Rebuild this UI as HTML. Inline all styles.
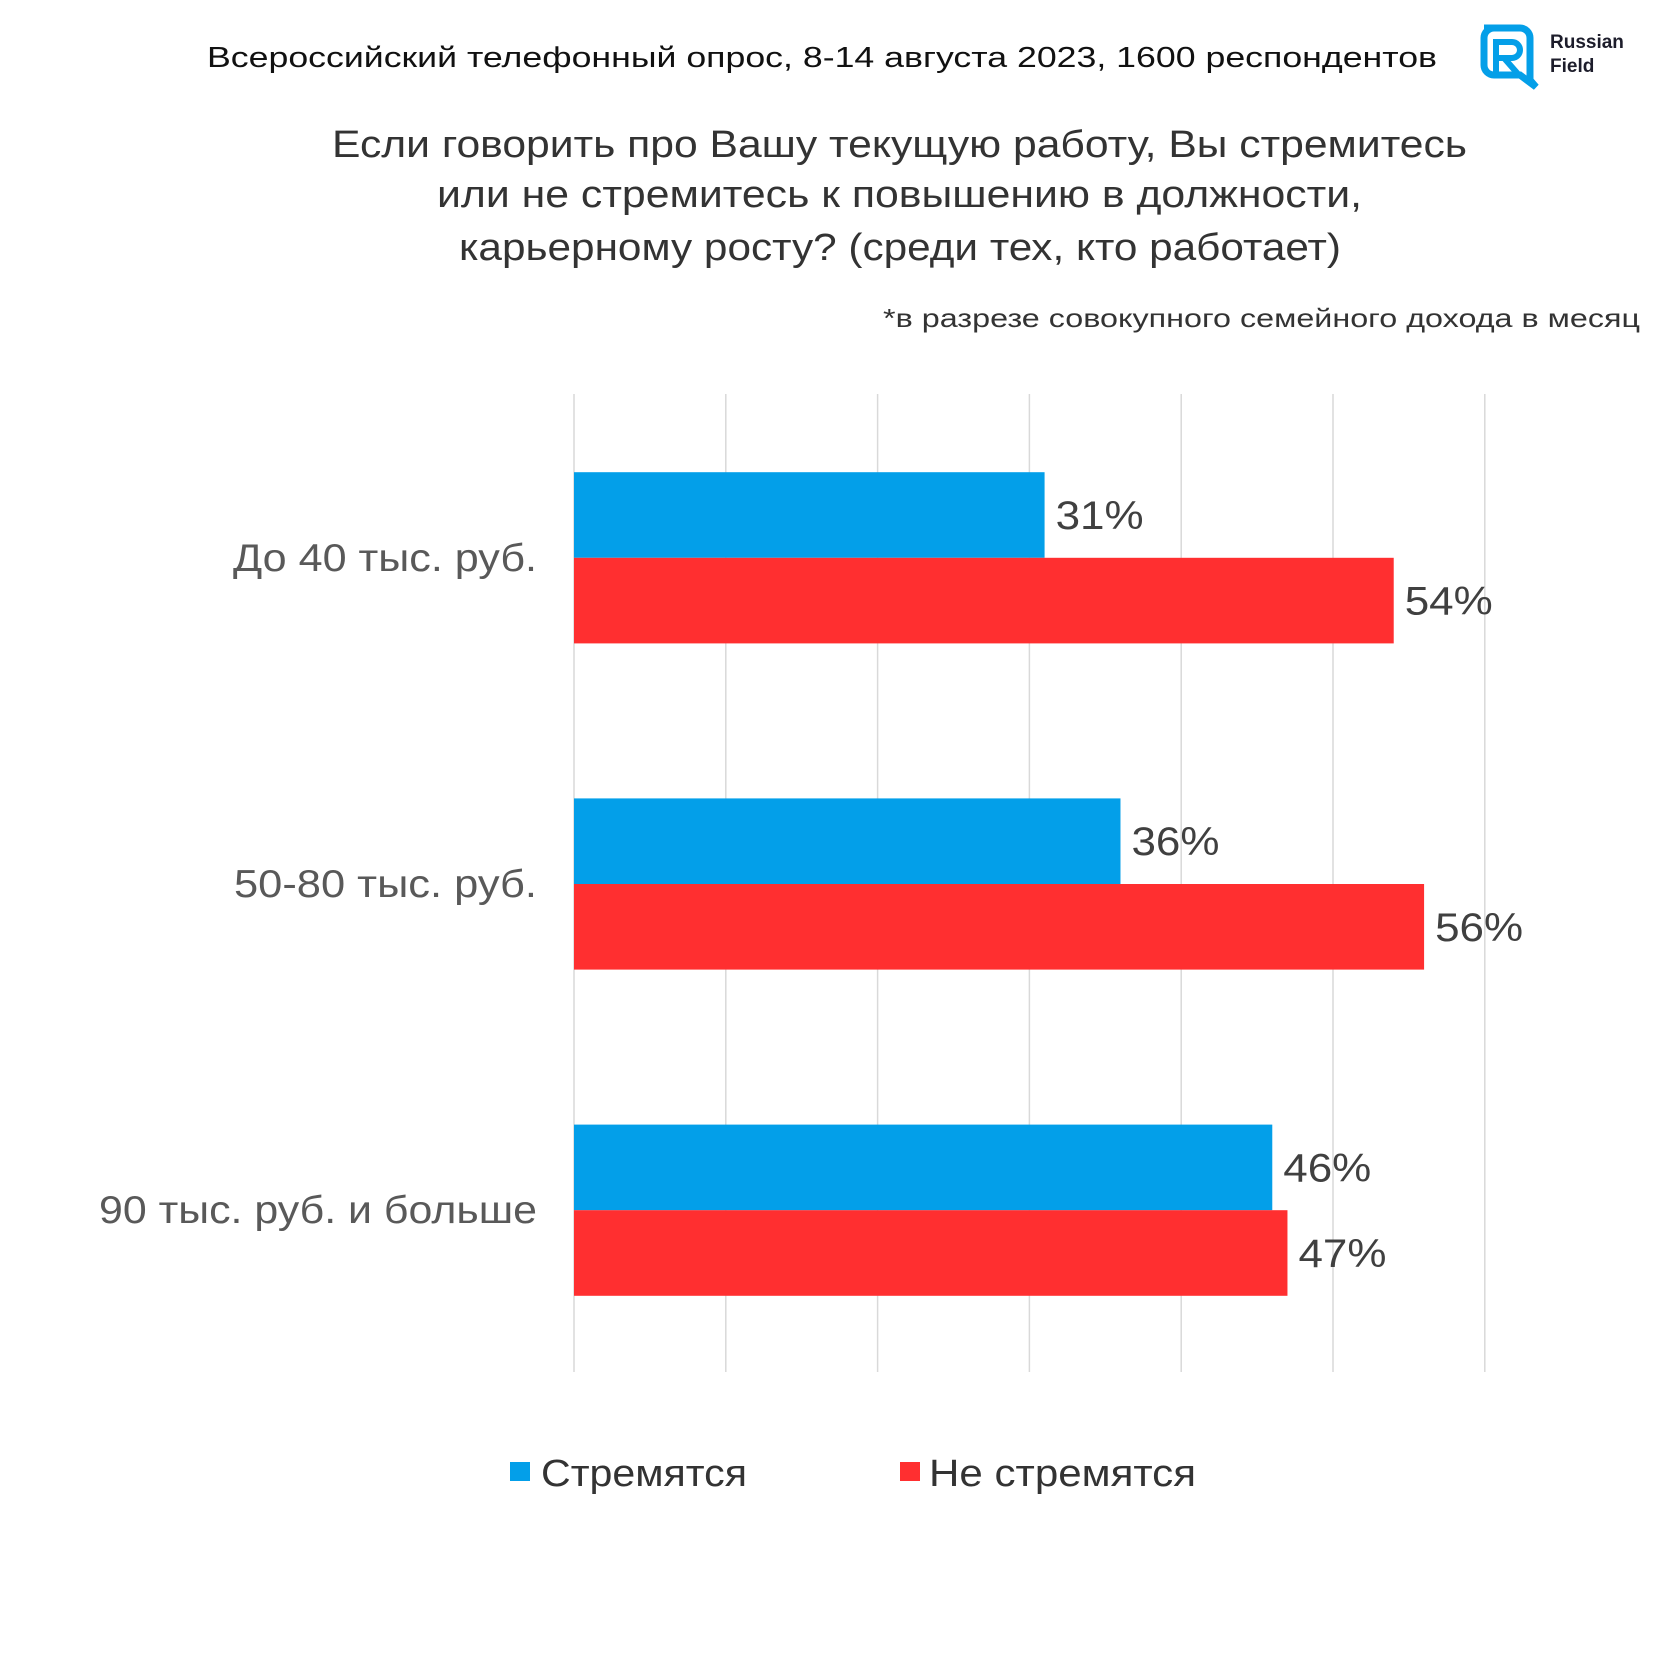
<!DOCTYPE html>
<html><head><meta charset="utf-8"><style>
html,body{margin:0;padding:0;background:#fff;}
svg{display:block;font-family:"Liberation Sans","DejaVu Sans",sans-serif;}
</style></head><body>
<svg id="chart" width="1680" height="1680" viewBox="0 0 1680 1680" xmlns="http://www.w3.org/2000/svg">
<text x="207" y="67" font-size="29" fill="#111" textLength="1230" lengthAdjust="spacingAndGlyphs">Всероссийский телефонный опрос, 8-14 августа 2023, 1600 респондентов</text>
<g>
<path d="M1484 28 h36 a10 10 0 0 1 10 10 v42 l6 7 l-16 -12 h-26 a10 10 0 0 1 -10 -10 v-27 a10 10 0 0 1 10 -10 z" fill="none" stroke="#049fe8" stroke-width="7"/>
<path d="M1496 74 v-32 h16 a8 8 0 0 1 0 16 h-16 m8 0 l14 16" fill="none" stroke="#049fe8" stroke-width="6"/>
<text x="1550" y="48" font-size="19" font-weight="bold" fill="#1d1d2b">Russian</text>
<text x="1550" y="72" font-size="19" font-weight="bold" fill="#1d1d2b">Field</text>
</g>
<g fill="#333" font-size="38">
<text x="332" y="157" textLength="1135" lengthAdjust="spacingAndGlyphs">Если говорить про Вашу текущую работу, Вы стремитесь</text>
<text x="437" y="207" textLength="925" lengthAdjust="spacingAndGlyphs">или не стремитесь к повышению в должности,</text>
<text x="459" y="260" textLength="882" lengthAdjust="spacingAndGlyphs">карьерному росту? (среди тех, кто работает)</text>
</g>
<text x="883" y="327" font-size="26" fill="#333" textLength="757" lengthAdjust="spacingAndGlyphs">*в разрезе совокупного семейного дохода в месяц</text>
<g id="grid"></g>
<g id="bars"></g>
<g id="labels"></g>
<g>
<rect x="510" y="1462" width="20" height="19" fill="#039fe9"/>
<text x="541" y="1486" font-size="38" fill="#333" textLength="206" lengthAdjust="spacingAndGlyphs">Стремятся</text>
<rect x="900" y="1462" width="20" height="19" fill="#ff2f30"/>
<text x="929" y="1486" font-size="38" fill="#333" textLength="267" lengthAdjust="spacingAndGlyphs">Не стремятся</text>
</g>
</svg>
<script>
const categories = ["До 40 тыс. руб.", "50-80 тыс. руб.", "90 тыс. руб. и больше"];
const striveValues = [31, 36, 46];
const notStriveValues = [54, 56, 47];
const gridTicks = [0, 10, 20, 30, 40, 50, 60];
const catLabelWidths = [304, 303, 438];

const NS = "http://www.w3.org/2000/svg";
const x0 = 574, pxPer = 15.18;
const xScale = v => x0 + v * pxPer;
const groupTop = 394, groupH = 326.2, barH = 85.6, barOffset = 78.2;
const yGroup = i => groupTop + i * groupH;

const grid = document.getElementById('grid');
gridTicks.forEach(t => {
  const l = document.createElementNS(NS, 'line');
  l.setAttribute('x1', xScale(t)); l.setAttribute('x2', xScale(t));
  l.setAttribute('y1', 394); l.setAttribute('y2', 1372);
  l.setAttribute('stroke', '#d9d9d9'); l.setAttribute('stroke-width', '1.5');
  
  
  grid.appendChild(l);
});

const bars = document.getElementById('bars');
const labels = document.getElementById('labels');
function addBar(v, y, color, name) {
  const r = document.createElementNS(NS, 'rect');
  r.setAttribute('x', x0); r.setAttribute('y', y);
  r.setAttribute('width', xScale(v) - x0); r.setAttribute('height', barH);
  r.setAttribute('fill', color);
  
  
  bars.appendChild(r);
  const t = document.createElementNS(NS, 'text');
  t.setAttribute('x', xScale(v) + 11); t.setAttribute('y', y + barH / 2 + 14);
  t.setAttribute('font-size', '40'); t.setAttribute('fill', '#404040');
  t.setAttribute('textLength', '88'); t.setAttribute('lengthAdjust', 'spacingAndGlyphs');
  t.textContent = v + '%';
  
  
  labels.appendChild(t);
}
categories.forEach((c, i) => {
  const top = yGroup(i) + barOffset;
  addBar(striveValues[i], top, '#039fe9', 'bar-strive-' + (i + 1));
  addBar(notStriveValues[i], top + barH, '#ff2f30', 'bar-not-strive-' + (i + 1));
  const t = document.createElementNS(NS, 'text');
  t.setAttribute('x', 537); t.setAttribute('y', top + barH + 13);
  t.setAttribute('text-anchor', 'end'); t.setAttribute('font-size', '39');
  t.setAttribute('fill', '#595959');
  t.setAttribute('textLength', catLabelWidths[i]); t.setAttribute('lengthAdjust', 'spacingAndGlyphs');
  t.textContent = c;
  
  
  labels.appendChild(t);
});
</script>
</body></html>
